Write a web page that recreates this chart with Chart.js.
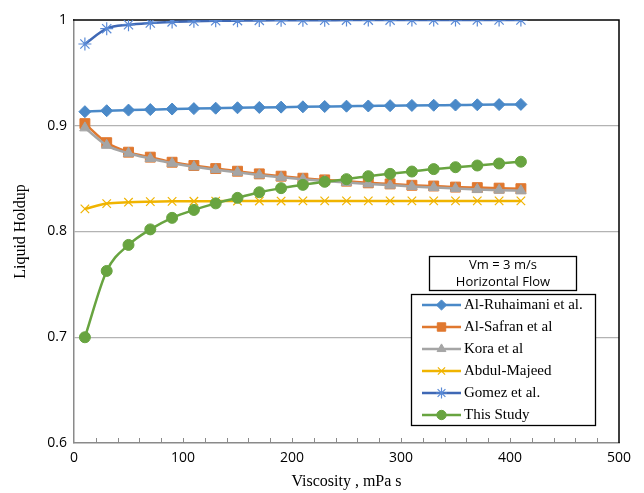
<!DOCTYPE html>
<html>
<head>
<meta charset="utf-8">
<script src="https://cdn.jsdelivr.net/npm/chart.js@4.4.1/dist/chart.umd.min.js"></script>
<style>
html,body{margin:0;padding:0;background:#fff;}
#wrap{width:644px;height:493px;position:relative;}
</style>
</head>
<body>
<div id="wrap"><canvas id="c" width="644" height="493"></canvas></div>
<script>
const viscosity = [10,30,50,70,90,110,130,150,170,190,210,230,250,270,290,310,330,350,370,390,410];
const alRuhaimani = [0.9133,0.9142,0.9148,0.9153,0.9158,0.9162,0.9166,0.9170,0.9173,0.9176,0.9179,0.9182,0.9185,0.9187,0.9190,0.9192,0.9194,0.9196,0.9198,0.9200,0.9202];
const alSafran = [0.902,0.884,0.875,0.8703,0.8655,0.8624,0.8595,0.857,0.8545,0.8523,0.8504,0.8488,0.8476,0.846,0.845,0.8437,0.843,0.842,0.8415,0.841,0.8405];
const kora = [0.898,0.8815,0.874,0.869,0.8645,0.8612,0.8585,0.856,0.8535,0.8512,0.8494,0.8478,0.8464,0.845,0.8438,0.8426,0.8416,0.8406,0.8398,0.8391,0.8385];
const abdulMajeed = [0.8214,0.8264,0.8277,0.8282,0.8285,0.8286,0.8287,0.8288,0.8288,0.8288,0.8289,0.8289,0.8289,0.8289,0.8289,0.8289,0.8289,0.8289,0.8289,0.8289,0.8289];
const gomez = [0.9773,0.9918,0.9955,0.9972,0.9982,0.9988,0.9992,0.9994,0.9996,0.9997,0.9998,0.9998,0.9999,0.9999,0.9999,1,1,1,1,1,1];
const thisStudy = [0.700,0.7627,0.7873,0.802,0.8129,0.8204,0.8266,0.8318,0.8371,0.841,0.8441,0.847,0.8495,0.8523,0.8545,0.8567,0.859,0.8608,0.8624,0.8643,0.866];
const seriesNames = ['Al-Ruhaimani et al.','Al-Safran et al','Kora et al','Abdul-Majeed','Gomez et al.','This Study'];
const xTicks = [0,100,200,300,400,500];
const yTicks = [0.6,0.7,0.8,0.9,1];
const legendTitle = ['Vm = 3 m/s','Horizontal Flow'];

function pts(ys){ return viscosity.map((x,i)=>({x:x,y:ys[i]})); }

const styles = [
  {line:'#4a89c8', point:'#4a89c8', ps:'rectRot', r:6},
  {line:'#e0782f', point:'#e0782f', ps:'rect', r:7},
  {line:'#a5a5a5', point:'#a5a5a5', ps:'triangle', r:6},
  {line:'#f0b400', point:'#f0b400', ps:'crossRot', r:6},
  {line:'#3f68b5', point:'#5a8ad6', ps:'star', r:6.5},
  {line:'#68a440', point:'#68a440', ps:'circle', r:5.5}
];
const allData = [alRuhaimani, alSafran, kora, abdulMajeed, gomez, thisStudy];

const datasets = allData.map((d,i)=>({
  label: seriesNames[i],
  data: pts(d),
  borderColor: styles[i].line,
  backgroundColor: styles[i].point,
  pointBorderColor: styles[i].point,
  pointBackgroundColor: styles[i].point,
  pointStyle: styles[i].ps,
  pointRadius: styles[i].r,
  pointBorderWidth: (styles[i].ps==='crossRot'||styles[i].ps==='star') ? 1.2 : 1,
  borderWidth: 2.5,
  cubicInterpolationMode: 'monotone',
  fill: false,
  order: 6 - i
}));

const framePlugin = {
  id: 'frame',
  beforeDatasetsDraw(chart){
    const {ctx, chartArea:a, scales:{x}} = chart;
    ctx.save();
    ctx.strokeStyle = '#8a8a8a';
    ctx.lineWidth = 1;
    for (let v = 20; v < 500; v += 20) {
      const px = Math.round(x.getPixelForValue(v)) + 0.5;
      ctx.beginPath(); ctx.moveTo(px, a.bottom); ctx.lineTo(px, a.bottom - 5); ctx.stroke();
    }
    ctx.strokeStyle = '#000';
    ctx.lineWidth = 1.5;
    ctx.beginPath();
    ctx.moveTo(a.left - 1, a.top);
    ctx.lineTo(a.right, a.top);
    ctx.lineTo(a.right, a.bottom);
    ctx.stroke();
    ctx.restore();
  },
  afterDraw(chart){
    const ctx = chart.ctx;
    ctx.save();
    ctx.fillStyle = '#fff';
    ctx.fillRect(429.5, 256.5, 147, 34);
    ctx.strokeStyle = '#000';
    ctx.lineWidth = 1.3;
    ctx.strokeRect(429.5, 256.5, 147, 34);
    ctx.fillStyle = '#000';
    ctx.font = '13px "Open Sans"';
    ctx.textAlign = 'center';
    ctx.textBaseline = 'middle';
    ctx.fillText(legendTitle[0], 503, 265.5);
    ctx.fillText(legendTitle[1], 503, 282.5);
    ctx.fillStyle = '#fff';
    ctx.fillRect(411.5, 294.5, 184, 131);
    ctx.strokeRect(411.5, 294.5, 184, 131);
    chart.data.datasets.forEach((ds, i) => {
      const y = 305 + i * 22;
      ctx.strokeStyle = ds.borderColor;
      ctx.lineWidth = 2.5;
      ctx.beginPath(); ctx.moveTo(422, y); ctx.lineTo(461, y); ctx.stroke();
      const opts = {pointStyle: ds.pointStyle, radius: ds.pointRadius * 0.85, borderWidth: ds.pointBorderWidth, rotation: 0};
      ctx.fillStyle = ds.pointBackgroundColor;
      ctx.strokeStyle = ds.pointBorderColor;
      ctx.lineWidth = ds.pointBorderWidth;
      Chart.helpers.drawPoint(ctx, opts, 441.5, y);
      ctx.fillStyle = '#000';
      ctx.font = '15px "Liberation Serif"';
      ctx.textAlign = 'left';
      ctx.textBaseline = 'middle';
      ctx.fillText(ds.label, 464, y + 0.5);
    });
    ctx.restore();
  }
};

new Chart(document.getElementById('c'), {
  type: 'line',
  data: { datasets: datasets },
  plugins: [framePlugin],
  options: {
    responsive: false,
    animation: false,
    devicePixelRatio: 1,
    layout: { padding: { left: 0, top: 20, right: 25, bottom: 0 } },
    plugins: { legend: { display: false }, tooltip: { enabled: false } },
    scales: {
      x: {
        type: 'linear',
        min: 0, max: 500,
        afterBuildTicks(scale){ scale.ticks = xTicks.map(v=>({value:v})); },
        afterFit(scale){ scale.height = 50; },
        grid: { display: false, drawTicks: false },
        border: { display: true, color: '#8a8a8a', width: 1.5 },
        ticks: { padding: 7, color: '#000', font: { family: '"Open Sans"', size: 14 }, maxRotation: 0 },
        title: { display: true, text: 'Viscosity , mPa s', color: '#000', font: { family: '"Liberation Serif"', size: 16 }, padding: { top: 0, bottom: 2 } }
      },
      y: {
        type: 'linear',
        min: 0.6, max: 1,
        afterBuildTicks(scale){ scale.ticks = yTicks.map(v=>({value:v})); },
        afterFit(scale){ scale.width = 74; },
        grid: {
          drawTicks: false,
          color: (c) => (c.tick && (Math.abs(c.tick.value - 1) < 1e-6 || Math.abs(c.tick.value - 0.6) < 1e-6)) ? 'rgba(0,0,0,0)' : '#b3b3b3',
          lineWidth: 1.2
        },
        border: { display: true, color: '#8a8a8a', width: 1.5 },
        ticks: { padding: 7, color: '#000', font: { family: '"Open Sans"', size: 14 }, callback: (v) => String(Math.round(v*10)/10) },
        title: { display: true, text: 'Liquid Holdup', color: '#000', font: { family: '"Liberation Serif"', size: 16 }, padding: { top: 11, bottom: 0 } }
      }
    }
  }
});
</script>
</body>
</html>
